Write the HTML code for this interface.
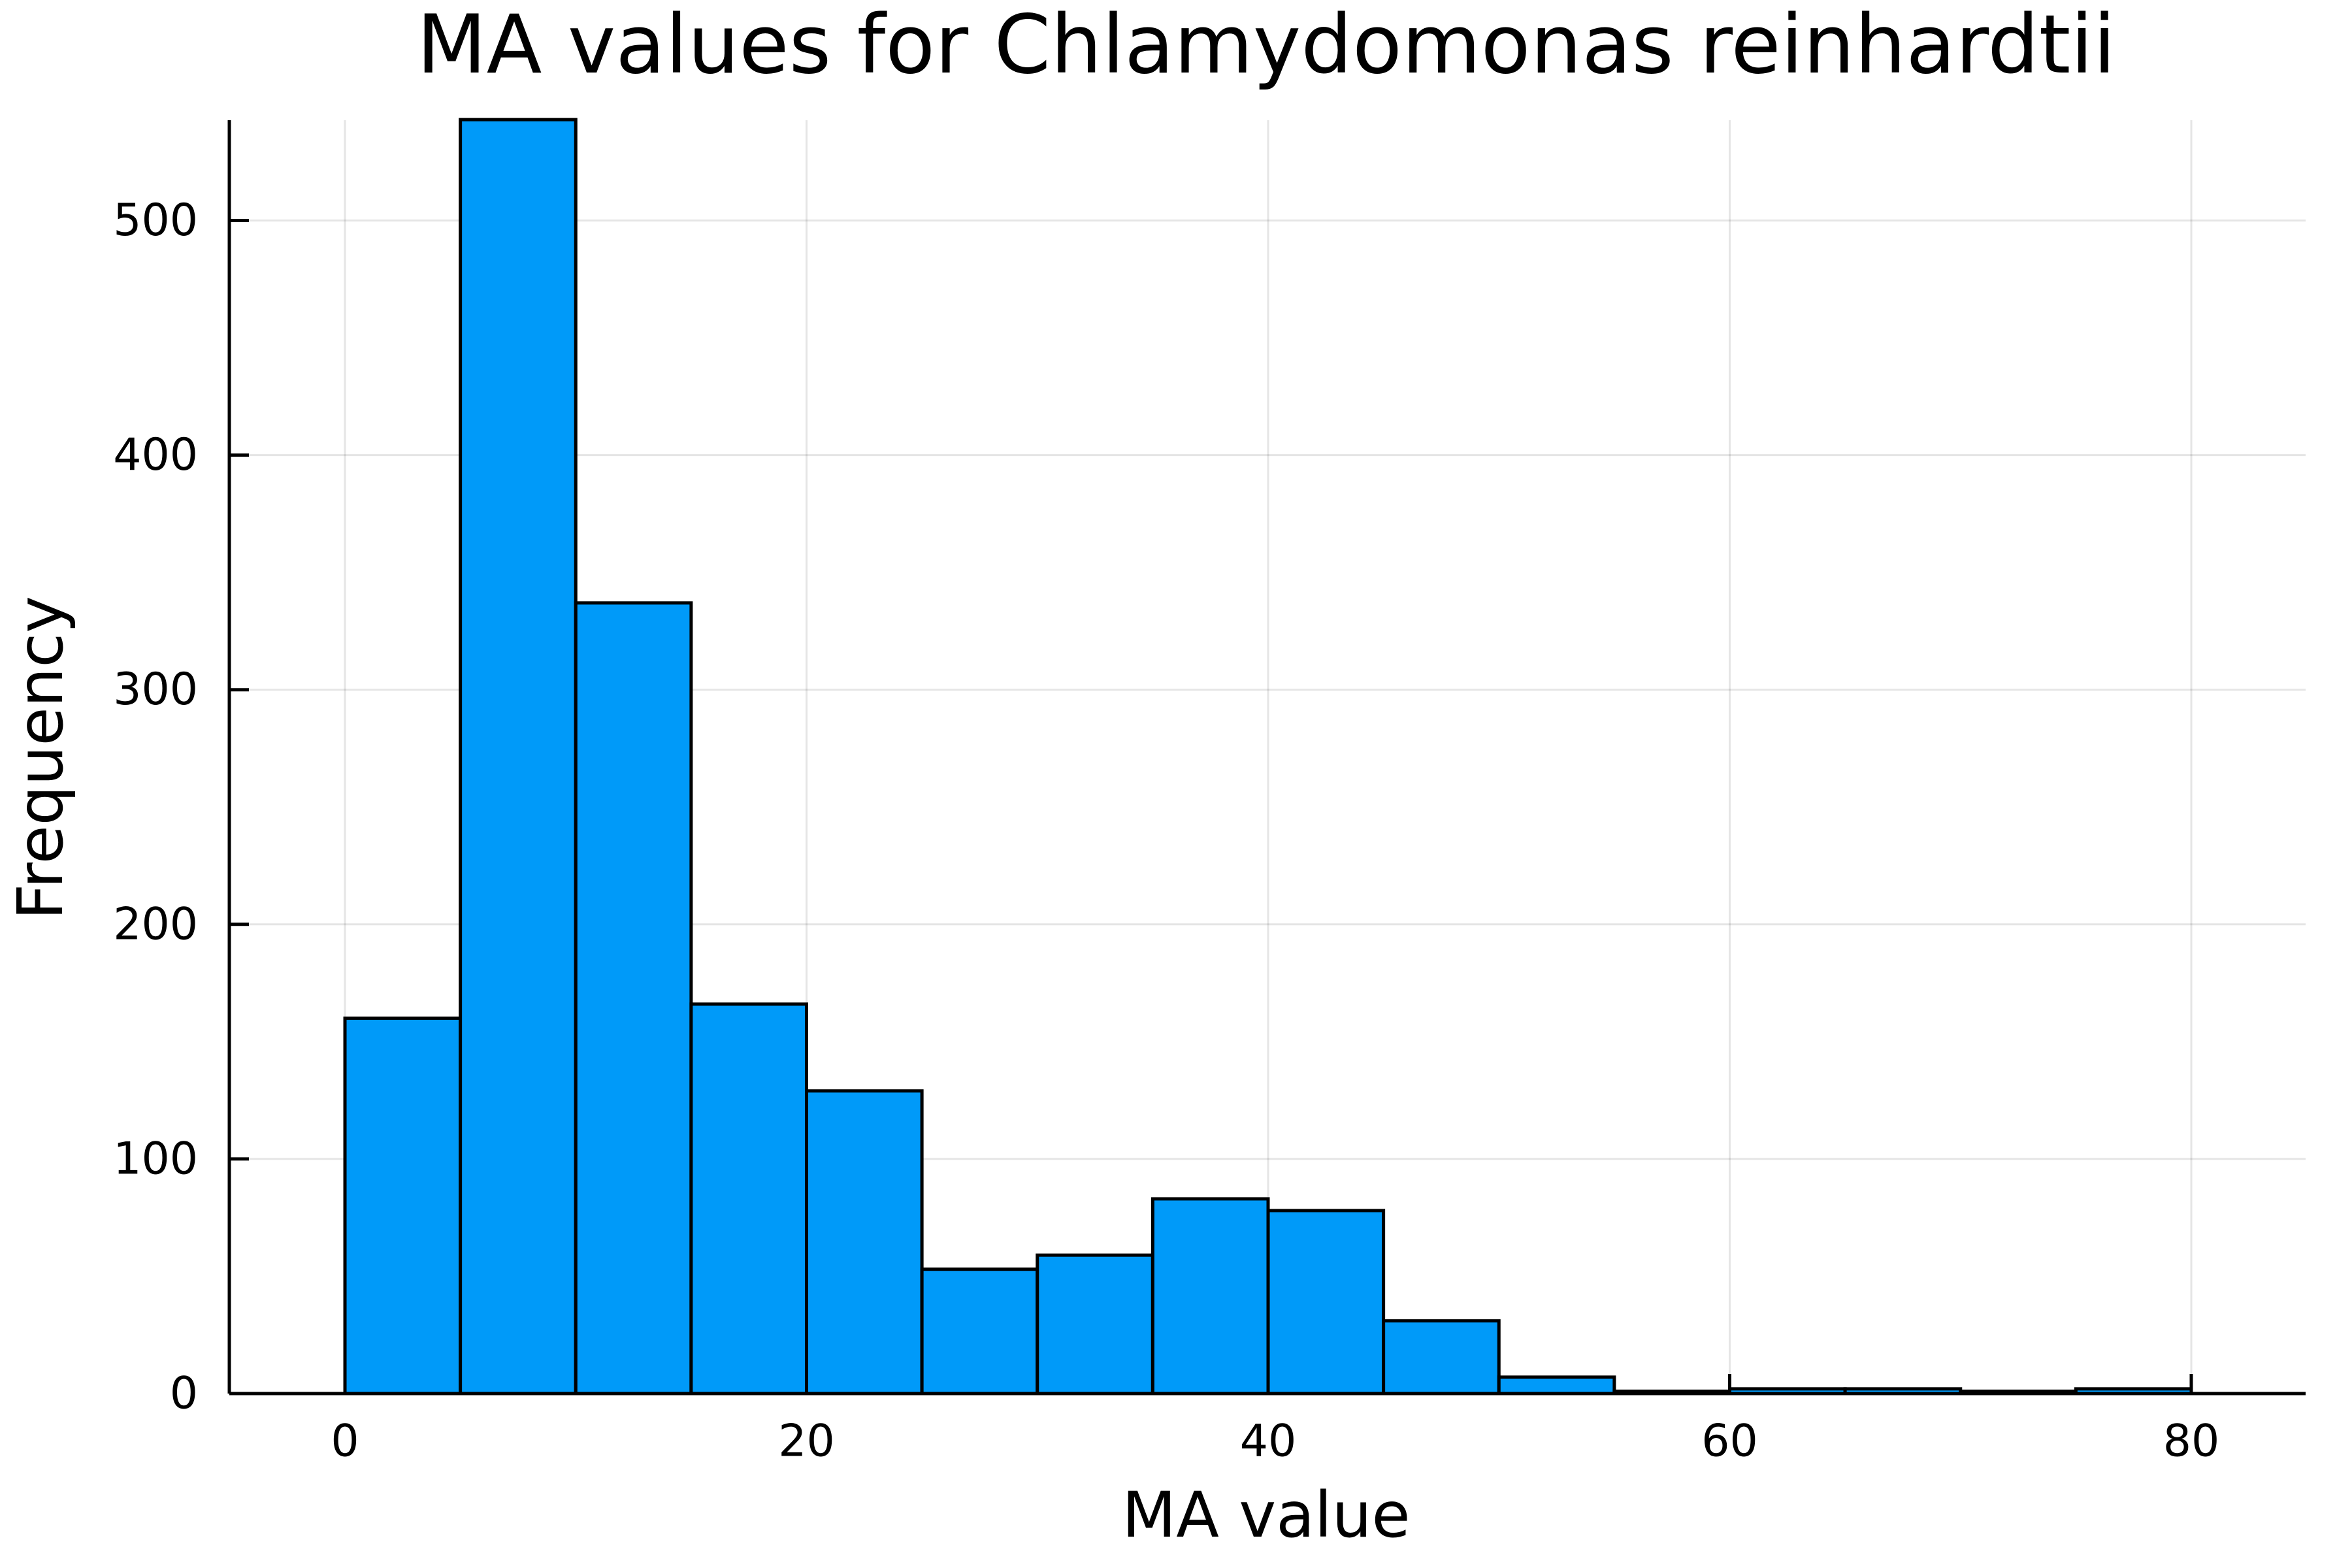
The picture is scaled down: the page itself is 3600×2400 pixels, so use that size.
<!DOCTYPE html>
<html><head><meta charset="utf-8"><style>
html,body{margin:0;padding:0;background:#fff;}
svg{display:block;font-family:"DejaVu Sans","Liberation Sans",sans-serif;}
</style></head><body>
<svg id="chart" width="3600" height="2400" viewBox="0 0 3600 2400" xmlns="http://www.w3.org/2000/svg">
<rect width="3600" height="2400" fill="#fff"/>
<text x="1938" y="69" font-size="124" text-anchor="middle" dominant-baseline="central">MA values for Chlamydomonas reinhardtii</text>
<text x="1938" y="2319" font-size="96" text-anchor="middle" dominant-baseline="central">MA value</text>
<text transform="translate(62,1160) rotate(-90)" font-size="96" text-anchor="middle" dominant-baseline="central">Frequency</text>
<g id="grid"></g>
<g id="bars"></g>
<g id="axes"></g>
</svg>
<script>
const binEdges = [0,5,10,15,20,25,30,35,40,45,50,55,60,65,70,75,80];
const counts = [160,543,337,166,129,53,59,83,78,31,7,1,2,2,1,2];
const xTicks = [0,20,40,60,80];
const yTicks = [0,100,200,300,400,500];

const L=351,R=3529,T=184,B=2133;
function xs(v){return 528+(3354-528)*v/80;}
function ys(v){return 2133-(2133-337.5)*v/500;}
const NS="http://www.w3.org/2000/svg";
function mk(tag,attrs,parent){const e=document.createElementNS(NS,tag);for(const k in attrs)e.setAttribute(k,attrs[k]);parent.appendChild(e);return e;}
const grid=document.getElementById('grid'),bars=document.getElementById('bars'),axes=document.getElementById('axes');
xTicks.forEach(t=>{
  const g=mk('line',{x1:xs(t),x2:xs(t),y1:T,y2:B,stroke:'#000','stroke-opacity':0.1,'stroke-width':3},grid);
  
  
});
yTicks.forEach(t=>{
  const g=mk('line',{x1:L,x2:R,y1:ys(t),y2:ys(t),stroke:'#000','stroke-opacity':0.1,'stroke-width':3},grid);
  
  
});
counts.forEach((c,i)=>{
  const x0=xs(binEdges[i]),x1=xs(binEdges[i+1]),y=ys(c);
  const r=mk('rect',{x:x0,y:y,width:x1-x0,height:B-y,fill:'#009af9',stroke:'#000','stroke-width':5},bars);
  
  
});
const xa=mk('line',{x1:L,x2:R,y1:B,y2:B,stroke:'#000','stroke-width':5},axes);


const ya=mk('line',{x1:L,x2:L,y1:T,y2:B,stroke:'#000','stroke-width':5},axes);


xTicks.forEach(t=>{
  const tk=mk('line',{x1:xs(t),x2:xs(t),y1:B,y2:B-30,stroke:'#000','stroke-width':5},axes);
  
  
  const lb=mk('text',{x:xs(t),y:2206,'font-size':68,'text-anchor':'middle','dominant-baseline':'central'},axes);
  lb.textContent=t;
  
  
});
yTicks.forEach(t=>{
  const tk=mk('line',{x1:L,x2:L+30,y1:ys(t),y2:ys(t),stroke:'#000','stroke-width':5},axes);
  
  
  const lb=mk('text',{x:303,y:ys(t),'font-size':68,'text-anchor':'end','dominant-baseline':'central'},axes);
  lb.textContent=t;
  
  
});
</script>
</body></html>
